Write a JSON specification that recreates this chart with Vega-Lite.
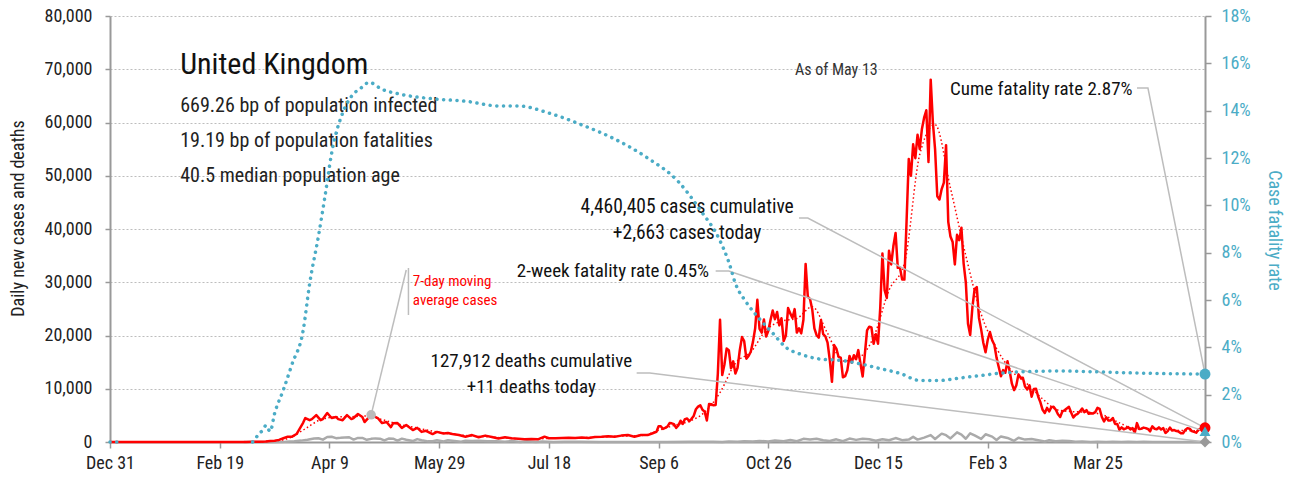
{
"$schema": "https://vega.github.io/schema/vega-lite/v6.json",
"width": 1095, "height": 426,
"autosize": {"type": "none"},
"padding": {"left": 110, "top": 16, "right": 89, "bottom": 40},
"background": "white",
"config": {"view": {"stroke": null}, "font": "Roboto Condensed, DejaVu Sans Condensed, Liberation Sans Narrow, Roboto, sans-serif",
  "axis": {"labelFont": "Roboto Condensed, DejaVu Sans Condensed, Liberation Sans Narrow, Roboto, sans-serif", "titleFont": "Roboto Condensed, DejaVu Sans Condensed, Liberation Sans Narrow, Roboto, sans-serif", "labelFontSize": 18, "titleFontSize": 18, "titleFontWeight": "normal", "labelColor": "#222", "titleColor": "#222", "domainColor": "#999", "domainWidth": 2, "tickColor": "#999", "tickWidth": 1.5, "labelFlush": false, "labelOverlap": false}},
"datasets": {
"cases": [
{"date":"2019-12-31","value":0},{"date":"2020-01-10","value":0},{"date":"2020-01-20","value":0},{"date":"2020-01-31","value":2},{"date":"2020-02-10","value":4},{"date":"2020-02-20","value":0},{"date":"2020-02-28","value":5},
{"date":"2020-03-02","value":15},{"date":"2020-03-05","value":30},{"date":"2020-03-08","value":60},{"date":"2020-03-11","value":80},{"date":"2020-03-13","value":200},{"date":"2020-03-15","value":250},{"date":"2020-03-17","value":400},{"date":"2020-03-19","value":700},{"date":"2020-03-21","value":1000},{"date":"2020-03-23","value":1000},{"date":"2020-03-25","value":1500},{"date":"2020-03-27","value":2900},{"date":"2020-03-28","value":3600},{"date":"2020-03-29","value":4500},{"date":"2020-03-31","value":4100},
{"date":"2020-04-01","value":4300},{"date":"2020-04-03","value":5050},{"date":"2020-04-05","value":4100},{"date":"2020-04-06","value":4300},{"date":"2020-04-08","value":5450},{"date":"2020-04-10","value":4500},{"date":"2020-04-12","value":4700},{"date":"2020-04-13","value":4300},{"date":"2020-04-15","value":4100},{"date":"2020-04-17","value":5050},{"date":"2020-04-19","value":4300},{"date":"2020-04-20","value":4500},{"date":"2020-04-22","value":5250},{"date":"2020-04-24","value":4700},{"date":"2020-04-25","value":3750},{"date":"2020-04-28","value":5100},
{"date":"2020-05-01","value":4500},{"date":"2020-05-03","value":3550},{"date":"2020-05-05","value":3750},{"date":"2020-05-07","value":2800},{"date":"2020-05-08","value":3500},{"date":"2020-05-10","value":3550},{"date":"2020-05-12","value":2650},{"date":"2020-05-14","value":3200},{"date":"2020-05-17","value":2250},{"date":"2020-05-19","value":2650},{"date":"2020-05-21","value":1900},{"date":"2020-05-23","value":2100},{"date":"2020-05-26","value":1500},{"date":"2020-05-28","value":1900},{"date":"2020-05-31","value":1600},
{"date":"2020-06-02","value":1700},{"date":"2020-06-04","value":1500},{"date":"2020-06-07","value":1300},{"date":"2020-06-10","value":1000},{"date":"2020-06-13","value":1300},{"date":"2020-06-16","value":900},{"date":"2020-06-19","value":1200},{"date":"2020-06-22","value":950},{"date":"2020-06-25","value":650},{"date":"2020-06-28","value":900},
{"date":"2020-07-01","value":700},{"date":"2020-07-04","value":600},{"date":"2020-07-07","value":500},{"date":"2020-07-10","value":550},{"date":"2020-07-13","value":500},{"date":"2020-07-16","value":1000},{"date":"2020-07-18","value":700},{"date":"2020-07-21","value":700},{"date":"2020-07-24","value":750},{"date":"2020-07-27","value":800},{"date":"2020-07-30","value":750},
{"date":"2020-08-02","value":850},{"date":"2020-08-05","value":750},{"date":"2020-08-08","value":950},{"date":"2020-08-11","value":1000},{"date":"2020-08-14","value":1100},{"date":"2020-08-17","value":1000},{"date":"2020-08-20","value":1200},{"date":"2020-08-23","value":1300},{"date":"2020-08-26","value":1000},{"date":"2020-08-29","value":1300},
{"date":"2020-09-01","value":1300},{"date":"2020-09-03","value":1600},{"date":"2020-09-05","value":1900},{"date":"2020-09-06","value":2950},{"date":"2020-09-07","value":2950},{"date":"2020-09-08","value":2450},{"date":"2020-09-09","value":2650},{"date":"2020-09-10","value":2900},{"date":"2020-09-11","value":3550},{"date":"2020-09-12","value":3500},{"date":"2020-09-13","value":3350},{"date":"2020-09-14","value":2650},{"date":"2020-09-15","value":3100},{"date":"2020-09-16","value":4000},{"date":"2020-09-17","value":3400},{"date":"2020-09-18","value":4300},{"date":"2020-09-19","value":4400},{"date":"2020-09-20","value":3900},{"date":"2020-09-21","value":4350},{"date":"2020-09-22","value":4900},{"date":"2020-09-23","value":6150},{"date":"2020-09-24","value":6650},{"date":"2020-09-25","value":6900},{"date":"2020-09-26","value":6050},{"date":"2020-09-27","value":5700},{"date":"2020-09-28","value":4050},{"date":"2020-09-29","value":7150},{"date":"2020-09-30","value":7100},
{"date":"2020-10-01","value":6900},{"date":"2020-10-02","value":6950},{"date":"2020-10-03","value":12850},{"date":"2020-10-04","value":22950},{"date":"2020-10-05","value":12600},{"date":"2020-10-06","value":14550},{"date":"2020-10-07","value":17550},{"date":"2020-10-08","value":17250},{"date":"2020-10-09","value":13850},{"date":"2020-10-10","value":15150},{"date":"2020-10-11","value":12850},{"date":"2020-10-12","value":13950},{"date":"2020-10-13","value":17250},{"date":"2020-10-14","value":19700},{"date":"2020-10-15","value":18950},{"date":"2020-10-16","value":15650},{"date":"2020-10-17","value":16150},{"date":"2020-10-18","value":16950},{"date":"2020-10-19","value":18800},{"date":"2020-10-20","value":21300},{"date":"2020-10-21","value":26700},{"date":"2020-10-22","value":21250},{"date":"2020-10-23","value":20550},{"date":"2020-10-24","value":23000},{"date":"2020-10-25","value":19800},{"date":"2020-10-26","value":20900},{"date":"2020-10-27","value":22900},{"date":"2020-10-28","value":24700},{"date":"2020-10-29","value":23050},{"date":"2020-10-30","value":24400},{"date":"2020-10-31","value":21900},
{"date":"2020-11-01","value":23250},{"date":"2020-11-02","value":18950},{"date":"2020-11-03","value":20000},{"date":"2020-11-04","value":25150},{"date":"2020-11-05","value":24150},{"date":"2020-11-06","value":23300},{"date":"2020-11-07","value":24950},{"date":"2020-11-08","value":20550},{"date":"2020-11-09","value":21350},{"date":"2020-11-10","value":20400},{"date":"2020-11-11","value":22950},{"date":"2020-11-12","value":33450},{"date":"2020-11-13","value":27300},{"date":"2020-11-14","value":26850},{"date":"2020-11-15","value":24950},{"date":"2020-11-16","value":21350},{"date":"2020-11-17","value":20050},{"date":"2020-11-18","value":19600},{"date":"2020-11-19","value":22900},{"date":"2020-11-20","value":20250},{"date":"2020-11-21","value":19850},{"date":"2020-11-22","value":18650},{"date":"2020-11-23","value":15450},{"date":"2020-11-24","value":11300},{"date":"2020-11-25","value":18200},{"date":"2020-11-26","value":17550},{"date":"2020-11-27","value":16000},{"date":"2020-11-28","value":15850},{"date":"2020-11-29","value":12150},{"date":"2020-11-30","value":12350},
{"date":"2020-12-01","value":13450},{"date":"2020-12-02","value":16150},{"date":"2020-12-03","value":14900},{"date":"2020-12-04","value":16300},{"date":"2020-12-05","value":15550},{"date":"2020-12-06","value":17250},{"date":"2020-12-07","value":14700},{"date":"2020-12-08","value":12300},{"date":"2020-12-09","value":16550},{"date":"2020-12-10","value":20950},{"date":"2020-12-11","value":21650},{"date":"2020-12-12","value":21500},{"date":"2020-12-13","value":18450},{"date":"2020-12-14","value":20250},{"date":"2020-12-15","value":18450},{"date":"2020-12-16","value":25150},{"date":"2020-12-17","value":35400},{"date":"2020-12-18","value":28500},{"date":"2020-12-19","value":27050},{"date":"2020-12-20","value":35900},{"date":"2020-12-21","value":33350},{"date":"2020-12-22","value":36800},{"date":"2020-12-23","value":39250},{"date":"2020-12-24","value":32700},{"date":"2020-12-25","value":32700},{"date":"2020-12-26","value":30500},{"date":"2020-12-27","value":30500},{"date":"2020-12-28","value":41400},{"date":"2020-12-29","value":53150},{"date":"2020-12-30","value":50000},{"date":"2020-12-31","value":55900},
{"date":"2021-01-01","value":53300},{"date":"2021-01-02","value":57700},{"date":"2021-01-03","value":55000},{"date":"2021-01-04","value":58800},{"date":"2021-01-05","value":60900},{"date":"2021-01-06","value":62300},{"date":"2021-01-07","value":52600},{"date":"2021-01-08","value":68050},{"date":"2021-01-09","value":59950},{"date":"2021-01-10","value":54950},{"date":"2021-01-11","value":46150},{"date":"2021-01-12","value":45550},{"date":"2021-01-13","value":47500},{"date":"2021-01-14","value":48700},{"date":"2021-01-15","value":55750},{"date":"2021-01-16","value":41350},{"date":"2021-01-17","value":38600},{"date":"2021-01-18","value":37550},{"date":"2021-01-19","value":33350},{"date":"2021-01-20","value":38900},{"date":"2021-01-21","value":37900},{"date":"2021-01-22","value":40250},{"date":"2021-01-23","value":33550},{"date":"2021-01-24","value":30000},{"date":"2021-01-25","value":22200},{"date":"2021-01-26","value":20100},{"date":"2021-01-27","value":25300},{"date":"2021-01-28","value":28700},{"date":"2021-01-29","value":29100},{"date":"2021-01-30","value":23300},{"date":"2021-01-31","value":21100},
{"date":"2021-02-01","value":18600},{"date":"2021-02-02","value":16850},{"date":"2021-02-03","value":19200},{"date":"2021-02-04","value":20650},{"date":"2021-02-05","value":19100},{"date":"2021-02-06","value":18250},{"date":"2021-02-07","value":15850},{"date":"2021-02-08","value":14100},{"date":"2021-02-09","value":12350},{"date":"2021-02-10","value":13500},{"date":"2021-02-11","value":13000},{"date":"2021-02-12","value":15150},{"date":"2021-02-13","value":13300},{"date":"2021-02-14","value":10950},{"date":"2021-02-15","value":9750},{"date":"2021-02-16","value":10600},{"date":"2021-02-17","value":12700},{"date":"2021-02-18","value":12050},{"date":"2021-02-19","value":12050},{"date":"2021-02-20","value":10400},{"date":"2021-02-21","value":9850},{"date":"2021-02-22","value":10650},{"date":"2021-02-23","value":8500},{"date":"2021-02-24","value":9950},{"date":"2021-02-25","value":10000},{"date":"2021-02-26","value":8500},{"date":"2021-02-27","value":7450},{"date":"2021-02-28","value":6050},
{"date":"2021-03-01","value":5450},{"date":"2021-03-02","value":6400},{"date":"2021-03-03","value":5750},{"date":"2021-03-04","value":6550},{"date":"2021-03-05","value":6600},{"date":"2021-03-06","value":6050},{"date":"2021-03-07","value":5200},{"date":"2021-03-08","value":4700},{"date":"2021-03-09","value":5750},{"date":"2021-03-10","value":5950},{"date":"2021-03-11","value":6300},{"date":"2021-03-12","value":6600},{"date":"2021-03-13","value":5550},{"date":"2021-03-14","value":4600},{"date":"2021-03-15","value":5100},{"date":"2021-03-16","value":5300},{"date":"2021-03-17","value":5750},{"date":"2021-03-18","value":6300},{"date":"2021-03-19","value":5600},{"date":"2021-03-20","value":6000},{"date":"2021-03-21","value":5300},{"date":"2021-03-22","value":5400},{"date":"2021-03-23","value":5350},{"date":"2021-03-24","value":5600},{"date":"2021-03-25","value":6400},{"date":"2021-03-26","value":6200},{"date":"2021-03-27","value":4700},{"date":"2021-03-28","value":3850},{"date":"2021-03-29","value":4650},{"date":"2021-03-30","value":4050},{"date":"2021-03-31","value":4050},
{"date":"2021-04-01","value":4500},{"date":"2021-04-02","value":3400},{"date":"2021-04-03","value":3400},{"date":"2021-04-04","value":2300},{"date":"2021-04-05","value":2750},{"date":"2021-04-06","value":2400},{"date":"2021-04-07","value":2550},{"date":"2021-04-08","value":2800},{"date":"2021-04-09","value":2350},{"date":"2021-04-10","value":2600},{"date":"2021-04-11","value":1750},{"date":"2021-04-12","value":3550},{"date":"2021-04-13","value":2450},{"date":"2021-04-14","value":2500},{"date":"2021-04-15","value":2700},{"date":"2021-04-16","value":2600},{"date":"2021-04-17","value":2450},{"date":"2021-04-18","value":2000},{"date":"2021-04-19","value":2950},{"date":"2021-04-20","value":2500},{"date":"2021-04-21","value":2400},{"date":"2021-04-22","value":2750},{"date":"2021-04-23","value":2350},{"date":"2021-04-24","value":2600},{"date":"2021-04-25","value":1700},{"date":"2021-04-26","value":2050},{"date":"2021-04-27","value":2700},{"date":"2021-04-28","value":2150},{"date":"2021-04-29","value":2250},{"date":"2021-04-30","value":2050},
{"date":"2021-05-01","value":1950},{"date":"2021-05-02","value":1650},{"date":"2021-05-03","value":1650},{"date":"2021-05-04","value":2250},{"date":"2021-05-05","value":2600},{"date":"2021-05-06","value":2500},{"date":"2021-05-07","value":2050},{"date":"2021-05-08","value":1900},{"date":"2021-05-09","value":1750},{"date":"2021-05-10","value":2350},{"date":"2021-05-11","value":2400},{"date":"2021-05-12","value":2300},{"date":"2021-05-13","value":2663}
],
"avg": [
{"date":"2019-12-31","value":0},{"date":"2020-02-28","value":3},{"date":"2020-03-08","value":40},{"date":"2020-03-15","value":200},{"date":"2020-03-22","value":800},{"date":"2020-03-29","value":2500},{"date":"2020-04-05","value":4200},{"date":"2020-04-12","value":4700},{"date":"2020-04-19","value":4750},{"date":"2020-04-26","value":4900},{"date":"2020-05-03","value":4200},{"date":"2020-05-10","value":3400},{"date":"2020-05-17","value":2800},{"date":"2020-05-24","value":2200},{"date":"2020-05-31","value":1700},{"date":"2020-06-07","value":1350},{"date":"2020-06-14","value":1100},{"date":"2020-06-21","value":950},{"date":"2020-06-28","value":750},{"date":"2020-07-05","value":600},{"date":"2020-07-12","value":600},{"date":"2020-07-19","value":700},{"date":"2020-07-26","value":750},{"date":"2020-08-02","value":800},{"date":"2020-08-09","value":900},{"date":"2020-08-16","value":1050},{"date":"2020-08-23","value":1150},{"date":"2020-08-30","value":1250},{"date":"2020-09-06","value":2200},{"date":"2020-09-13","value":3100},{"date":"2020-09-20","value":3900},{"date":"2020-09-27","value":5600},{"date":"2020-10-04","value":9300},{"date":"2020-10-11","value":14800},{"date":"2020-10-18","value":16900},{"date":"2020-10-25","value":21000},{"date":"2020-11-01","value":22700},{"date":"2020-11-08","value":23200},{"date":"2020-11-15","value":25400},{"date":"2020-11-22","value":20400},{"date":"2020-11-29","value":15200},{"date":"2020-12-06","value":15800},{"date":"2020-12-13","value":19700},{"date":"2020-12-20","value":28500},{"date":"2020-12-27","value":33500},{"date":"2021-01-03","value":54000},{"date":"2021-01-10","value":59600},{"date":"2021-01-17","value":47700},{"date":"2021-01-24","value":35000},{"date":"2021-01-31","value":24000},{"date":"2021-02-07","value":17600},{"date":"2021-02-14","value":13300},{"date":"2021-02-21","value":10900},{"date":"2021-02-28","value":8100},{"date":"2021-03-07","value":6000},{"date":"2021-03-14","value":5700},{"date":"2021-03-21","value":5600},{"date":"2021-03-28","value":5000},{"date":"2021-04-04","value":3600},{"date":"2021-04-11","value":2500},{"date":"2021-04-18","value":2550},{"date":"2021-04-25","value":2450},{"date":"2021-05-02","value":2150},{"date":"2021-05-09","value":2100},{"date":"2021-05-13","value":2300}
],
"deaths": [
{"date":"2020-03-01","value":0},{"date":"2020-03-10","value":2},{"date":"2020-03-15","value":20},{"date":"2020-03-20","value":60},{"date":"2020-03-24","value":150},{"date":"2020-03-27","value":260},{"date":"2020-03-30","value":420},{"date":"2020-04-02","value":650},{"date":"2020-04-04","value":700},{"date":"2020-04-06","value":440},{"date":"2020-04-08","value":940},{"date":"2020-04-10","value":980},{"date":"2020-04-12","value":720},{"date":"2020-04-14","value":780},{"date":"2020-04-16","value":860},{"date":"2020-04-18","value":890},{"date":"2020-04-20","value":450},{"date":"2020-04-22","value":760},{"date":"2020-04-24","value":770},{"date":"2020-04-26","value":410},{"date":"2020-04-28","value":590},{"date":"2020-04-30","value":680},{"date":"2020-05-02","value":620},{"date":"2020-05-04","value":290},{"date":"2020-05-06","value":650},{"date":"2020-05-08","value":630},{"date":"2020-05-10","value":270},{"date":"2020-05-12","value":630},{"date":"2020-05-14","value":420},{"date":"2020-05-17","value":170},{"date":"2020-05-19","value":540},{"date":"2020-05-21","value":340},{"date":"2020-05-24","value":120},{"date":"2020-05-26","value":130},{"date":"2020-05-28","value":320},{"date":"2020-05-31","value":110},{"date":"2020-06-02","value":320},{"date":"2020-06-05","value":200},{"date":"2020-06-08","value":60},{"date":"2020-06-10","value":240},{"date":"2020-06-13","value":180},{"date":"2020-06-16","value":230},{"date":"2020-06-20","value":130},{"date":"2020-06-24","value":150},{"date":"2020-06-28","value":40},{"date":"2020-07-01","value":170},{"date":"2020-07-05","value":20},{"date":"2020-07-08","value":125},{"date":"2020-07-12","value":20},{"date":"2020-07-15","value":100},{"date":"2020-07-20","value":15},{"date":"2020-07-25","value":60},{"date":"2020-08-01","value":70},{"date":"2020-08-10","value":15},{"date":"2020-08-20","value":15},{"date":"2020-09-01","value":5},{"date":"2020-09-10","value":10},{"date":"2020-09-20","value":30},{"date":"2020-09-25","value":40},{"date":"2020-10-01","value":60},{"date":"2020-10-05","value":20},{"date":"2020-10-08","value":80},{"date":"2020-10-12","value":50},{"date":"2020-10-15","value":140},{"date":"2020-10-19","value":80},{"date":"2020-10-22","value":190},{"date":"2020-10-26","value":100},{"date":"2020-10-29","value":280},{"date":"2020-11-02","value":140},{"date":"2020-11-05","value":380},{"date":"2020-11-08","value":150},{"date":"2020-11-11","value":600},{"date":"2020-11-14","value":460},{"date":"2020-11-17","value":600},{"date":"2020-11-20","value":340},{"date":"2020-11-23","value":200},{"date":"2020-11-26","value":500},{"date":"2020-11-29","value":150},{"date":"2020-12-02","value":650},{"date":"2020-12-05","value":400},{"date":"2020-12-08","value":600},{"date":"2020-12-11","value":520},{"date":"2020-12-14","value":230},{"date":"2020-12-17","value":530},{"date":"2020-12-20","value":320},{"date":"2020-12-23","value":740},{"date":"2020-12-26","value":350},{"date":"2020-12-29","value":450},{"date":"2020-12-31","value":960},{"date":"2021-01-02","value":450},{"date":"2021-01-05","value":830},{"date":"2021-01-08","value":1300},{"date":"2021-01-10","value":560},{"date":"2021-01-13","value":1570},{"date":"2021-01-15","value":1280},{"date":"2021-01-17","value":670},{"date":"2021-01-20","value":1820},{"date":"2021-01-22","value":1400},{"date":"2021-01-24","value":610},{"date":"2021-01-26","value":1630},{"date":"2021-01-28","value":1240},{"date":"2021-01-31","value":590},{"date":"2021-02-02","value":1450},{"date":"2021-02-05","value":1010},{"date":"2021-02-07","value":370},{"date":"2021-02-09","value":1050},{"date":"2021-02-12","value":760},{"date":"2021-02-15","value":230},{"date":"2021-02-17","value":800},{"date":"2021-02-20","value":450},{"date":"2021-02-23","value":550},{"date":"2021-02-26","value":340},{"date":"2021-03-01","value":100},{"date":"2021-03-03","value":320},{"date":"2021-03-06","value":160},{"date":"2021-03-09","value":230},{"date":"2021-03-12","value":180},{"date":"2021-03-15","value":60},{"date":"2021-03-18","value":100},{"date":"2021-03-22","value":20},{"date":"2021-03-25","value":70},{"date":"2021-03-29","value":20},{"date":"2021-04-01","value":50},{"date":"2021-04-05","value":5},{"date":"2021-04-08","value":40},{"date":"2021-04-12","value":10},{"date":"2021-04-15","value":35},{"date":"2021-04-19","value":4},{"date":"2021-04-22","value":20},{"date":"2021-04-26","value":10},{"date":"2021-04-29","value":15},{"date":"2021-05-03","value":4},{"date":"2021-05-06","value":10},{"date":"2021-05-10","value":5},{"date":"2021-05-13","value":11}
],
"cfr": [
{"date":"2019-12-31","cfr":0,"seg":1},{"date":"2020-01-02","cfr":0,"seg":1},{"date":"2020-01-04","cfr":0,"seg":1},
{"date":"2020-03-05","cfr":0.0,"seg":2},{"date":"2020-03-08","cfr":0.0035,"seg":2},{"date":"2020-03-10","cfr":0.0055,"seg":2},{"date":"2020-03-11","cfr":0.007,"seg":2},{"date":"2020-03-13","cfr":0.0045,"seg":2},{"date":"2020-03-15","cfr":0.012,"seg":2},{"date":"2020-03-19","cfr":0.022,"seg":2},{"date":"2020-03-23","cfr":0.033,"seg":2},{"date":"2020-03-28","cfr":0.047,"seg":2},{"date":"2020-03-31","cfr":0.067,"seg":2},{"date":"2020-04-04","cfr":0.087,"seg":2},{"date":"2020-04-07","cfr":0.104,"seg":2},{"date":"2020-04-10","cfr":0.122,"seg":2},{"date":"2020-04-15","cfr":0.139,"seg":2},{"date":"2020-04-19","cfr":0.146,"seg":2},{"date":"2020-04-24","cfr":0.150,"seg":2},{"date":"2020-04-27","cfr":0.152,"seg":2},{"date":"2020-05-03","cfr":0.149,"seg":2},{"date":"2020-05-11","cfr":0.147,"seg":2},{"date":"2020-05-26","cfr":0.145,"seg":2},{"date":"2020-06-10","cfr":0.144,"seg":2},{"date":"2020-06-25","cfr":0.142,"seg":2},{"date":"2020-07-04","cfr":0.142,"seg":2},{"date":"2020-07-18","cfr":0.139,"seg":2},{"date":"2020-08-02","cfr":0.134,"seg":2},{"date":"2020-08-17","cfr":0.128,"seg":2},{"date":"2020-09-01","cfr":0.120,"seg":2},{"date":"2020-09-15","cfr":0.110,"seg":2},{"date":"2020-09-25","cfr":0.098,"seg":2},{"date":"2020-10-04","cfr":0.085,"seg":2},{"date":"2020-10-08","cfr":0.076,"seg":2},{"date":"2020-10-11","cfr":0.067,"seg":2},{"date":"2020-10-16","cfr":0.059,"seg":2},{"date":"2020-10-22","cfr":0.052,"seg":2},{"date":"2020-10-28","cfr":0.046,"seg":2},{"date":"2020-11-03","cfr":0.040,"seg":2},{"date":"2020-11-10","cfr":0.037,"seg":2},{"date":"2020-11-19","cfr":0.035,"seg":2},{"date":"2020-11-28","cfr":0.0345,"seg":2},{"date":"2020-12-07","cfr":0.033,"seg":2},{"date":"2020-12-16","cfr":0.031,"seg":2},{"date":"2020-12-25","cfr":0.029,"seg":2},{"date":"2021-01-03","cfr":0.026,"seg":2},{"date":"2021-01-12","cfr":0.026,"seg":2},{"date":"2021-01-21","cfr":0.027,"seg":2},{"date":"2021-01-30","cfr":0.028,"seg":2},{"date":"2021-02-08","cfr":0.029,"seg":2},{"date":"2021-02-17","cfr":0.0296,"seg":2},{"date":"2021-03-08","cfr":0.030,"seg":2},{"date":"2021-03-26","cfr":0.0296,"seg":2},{"date":"2021-04-18","cfr":0.029,"seg":2},{"date":"2021-05-13","cfr":0.0287,"seg":2}
],
"leaders": [
{"id":"cume","o":1,"date":"2021-04-12","value":66480},{"id":"cume","o":2,"date":"2021-04-17","value":66480},{"id":"cume","o":3,"date":"2021-05-13","value":12756},
{"id":"cases","o":1,"date":"2020-11-09","value":42070},{"id":"cases","o":2,"date":"2020-11-13","value":42070},{"id":"cases","o":3,"date":"2021-05-13","value":2663},
{"id":"rate","o":1,"date":"2020-10-02","value":32110},{"id":"rate","o":2,"date":"2020-10-08","value":32110},{"id":"rate","o":3,"date":"2021-05-13","value":2000},
{"id":"deaths","o":1,"date":"2020-08-27","value":12960},{"id":"deaths","o":2,"date":"2020-09-02","value":12960},{"id":"deaths","o":3,"date":"2021-05-13","value":11},
{"id":"avgv","o":1,"date":"2020-05-15","value":32680},{"id":"avgv","o":2,"date":"2020-05-15","value":23850},
{"id":"avgd","o":1,"date":"2020-05-14","value":32300},{"id":"avgd","o":2,"date":"2020-04-28","value":5100}
]
},
"layer": [
{
  "layer": [
    {"data": {"name": "deaths"}, "mark": {"type": "line", "color": "#aaaaaa", "strokeWidth": 2.5, "strokeJoin": "round"},
     "encoding": {
      "x": {"field": "date", "type": "temporal",
        "scale": {"type": "utc", "nice": false, "domain": [{"year":2019,"month":12,"date":31,"utc":true},{"year":2021,"month":5,"date":13,"utc":true}]},
        "axis": {"title": null, "format": "%b %-d", "grid": false, "tickSize": 6, "labelPadding": 6,
          "values": [{"year":2019,"month":12,"date":31,"utc":true},{"year":2020,"month":2,"date":19,"utc":true},{"year":2020,"month":4,"date":9,"utc":true},{"year":2020,"month":5,"date":29,"utc":true},{"year":2020,"month":7,"date":18,"utc":true},{"year":2020,"month":9,"date":6,"utc":true},{"year":2020,"month":10,"date":26,"utc":true},{"year":2020,"month":12,"date":15,"utc":true},{"year":2021,"month":2,"date":3,"utc":true},{"year":2021,"month":3,"date":25,"utc":true}]}},
      "y": {"field": "value", "type": "quantitative",
        "scale": {"domain": [0, 80000], "nice": false, "zero": true},
        "axis": {"orient": "left", "title": "Daily new cases and deaths", "values": [0,10000,20000,30000,40000,50000,60000,70000,80000], "format": ",d", "tickSize": 5, "labelPadding": 13, "grid": true, "gridDash": [2,2], "gridColor": "#bdbdbd", "gridWidth": 1, "titleAngle": 270, "titleX": -92, "titleY": 202, "titleAlign": "center", "titleBaseline": "middle"}}
     }},
    {"data": {"name": "cases"}, "mark": {"type": "line", "color": "#ff0000", "strokeWidth": 2.5, "strokeJoin": "round"},
     "encoding": {"x": {"field": "date", "type": "temporal", "scale": {"type": "utc"}}, "y": {"field": "value", "type": "quantitative"}}},
    {"data": {"name": "avg"}, "mark": {"type": "line", "color": "#ff0000", "strokeWidth": 1.5, "strokeDash": [1.5, 2.5], "interpolate": "monotone"},
     "encoding": {"x": {"field": "date", "type": "temporal", "scale": {"type": "utc"}}, "y": {"field": "value", "type": "quantitative"}}},
    {"data": {"name": "leaders"}, "mark": {"type": "line", "color": "#bdbdbd", "strokeWidth": 1.5},
     "encoding": {"x": {"field": "date", "type": "temporal", "scale": {"type": "utc"}}, "y": {"field": "value", "type": "quantitative"}, "detail": {"field": "id"}, "order": {"field": "o"}}},
    {"data": {"values": [{}]}, "mark": {"type": "point", "filled": true, "color": "#bbbbbb", "opacity": 1, "size": 90},
      "encoding": {"x": {"datum": {"year":2020,"month":4,"date":28,"utc":true}, "type": "temporal"}, "y": {"datum": 5100, "type": "quantitative"}}},
    {"data": {"values": [{}]}, "mark": {"type": "point", "shape": "circle", "filled": true, "color": "#ff0000", "opacity": 1, "size": 120},
      "encoding": {"x": {"datum": {"year":2021,"month":5,"date":13,"utc":true}, "type": "temporal"}, "y": {"datum": 2663, "type": "quantitative"}}},
    {"data": {"values": [{}]}, "mark": {"type": "point", "shape": "diamond", "filled": true, "color": "#999999", "opacity": 1, "size": 120},
      "encoding": {"x": {"datum": {"year":2021,"month":5,"date":13,"utc":true}, "type": "temporal"}, "y": {"datum": 11, "type": "quantitative"}}},
    {"data": {"values": [{}]}, "mark": {"type": "text", "align": "left", "baseline": "alphabetic", "fontSize": 30, "color": "#111"},
      "encoding": {"x": {"datum": {"year":2020,"month":2,"date":1,"utc":true}, "type": "temporal"}, "y": {"datum": 69110, "type": "quantitative"}, "text": {"value": "United Kingdom"}}},
    {"data": {"values": [{}]}, "mark": {"type": "text", "align": "left", "baseline": "alphabetic", "fontSize": 20, "lineHeight": 35, "lineBreak": "\n", "color": "#222"},
      "encoding": {"x": {"datum": {"year":2020,"month":2,"date":1,"utc":true}, "type": "temporal"}, "y": {"datum": 61970, "type": "quantitative"}, "text": {"value": "669.26 bp of population infected\n19.19 bp of population fatalities\n40.5 median population age"}}},
    {"data": {"values": [{}]}, "mark": {"type": "text", "align": "center", "baseline": "alphabetic", "fontSize": 16, "color": "#333"},
      "encoding": {"x": {"datum": {"year":2020,"month":11,"date":26,"utc":true}, "type": "temporal"}, "y": {"datum": 68920, "type": "quantitative"}, "text": {"value": "As of May 13"}}},
    {"data": {"values": [{}]}, "mark": {"type": "text", "align": "right", "baseline": "alphabetic", "fontSize": 19, "color": "#111"},
      "encoding": {"x": {"datum": {"year":2021,"month":4,"date":10,"utc":true}, "type": "temporal"}, "y": {"datum": 65170, "type": "quantitative"}, "text": {"value": "Cume fatality rate 2.87%"}}},
    {"data": {"values": [{}]}, "mark": {"type": "text", "align": "center", "baseline": "alphabetic", "fontSize": 19.5, "lineHeight": 26, "lineBreak": "\n", "color": "#111"},
      "encoding": {"x": {"datum": {"year":2020,"month":9,"date":19,"utc":true}, "type": "temporal"}, "y": {"datum": 43010, "type": "quantitative"}, "text": {"value": "4,460,405  cases cumulative\n+2,663  cases today"}}},
    {"data": {"values": [{}]}, "mark": {"type": "text", "align": "right", "baseline": "alphabetic", "fontSize": 19, "color": "#111"},
      "encoding": {"x": {"datum": {"year":2020,"month":9,"date":29,"utc":true}, "type": "temporal"}, "y": {"datum": 30990, "type": "quantitative"}, "text": {"value": "2-week fatality rate 0.45%"}}},
    {"data": {"values": [{}]}, "mark": {"type": "text", "align": "left", "baseline": "alphabetic", "fontSize": 15, "lineHeight": 19, "lineBreak": "\n", "color": "#ff0000"},
      "encoding": {"x": {"datum": {"year":2020,"month":5,"date":17,"utc":true}, "type": "temporal"}, "y": {"datum": 29300, "type": "quantitative"}, "text": {"value": "7-day moving\naverage cases"}}},
    {"data": {"values": [{}]}, "mark": {"type": "text", "align": "center", "baseline": "alphabetic", "fontSize": 19, "lineHeight": 26, "lineBreak": "\n", "color": "#111"},
      "encoding": {"x": {"datum": {"year":2020,"month":7,"date":10,"utc":true}, "type": "temporal"}, "y": {"datum": 14085, "type": "quantitative"}, "text": {"value": "127,912  deaths cumulative\n+11 deaths today"}}}
  ]
},
{
  "layer": [
    {"data": {"name": "cfr"}, "mark": {"type": "line", "color": "#4bacc6", "strokeWidth": 3.5, "strokeCap": "round", "strokeDash": [0.1, 6.6], "interpolate": "monotone"},
     "encoding": {
      "x": {"field": "date", "type": "temporal", "scale": {"type": "utc"}},
      "y": {"field": "cfr", "type": "quantitative",
        "scale": {"domain": [0, 0.18], "nice": false, "zero": true},
        "axis": {"orient": "right", "title": "Case fatality rate", "values": [0,0.02,0.04,0.06,0.08,0.1,0.12,0.14,0.16,0.18], "format": ".0%", "tickSize": 6, "labelPadding": 10, "grid": false, "labelColor": "#4bacc6", "titleColor": "#4bacc6", "titleAngle": 90, "titleX": 68, "titleY": 214, "titleAlign": "center", "titleBaseline": "middle"}},
      "detail": {"field": "seg"}}},
    {"data": {"values": [{}]}, "mark": {"type": "point", "shape": "circle", "filled": true, "color": "#4bacc6", "opacity": 1, "size": 120},
      "encoding": {"x": {"datum": {"year":2021,"month":5,"date":13,"utc":true}, "type": "temporal"}, "y": {"datum": 0.0287, "type": "quantitative"}}},
    {"data": {"values": [{}]}, "mark": {"type": "point", "shape": "triangle-up", "filled": true, "color": "#4bacc6", "opacity": 1, "size": 120},
      "encoding": {"x": {"datum": {"year":2021,"month":5,"date":13,"utc":true}, "type": "temporal"}, "y": {"datum": 0.0045, "type": "quantitative"}}}
  ]
}
],
"resolve": {"scale": {"y": "independent"}, "axis": {"y": "independent"}}
}
